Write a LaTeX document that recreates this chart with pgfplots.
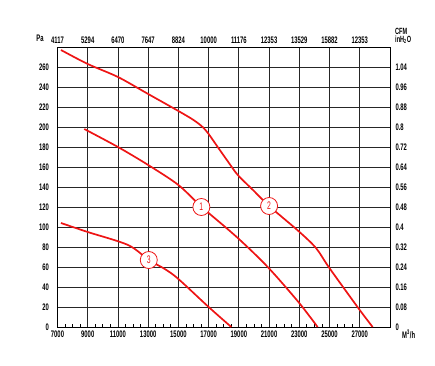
\documentclass[border=0pt]{standalone}
\usepackage{fontspec}
\setmainfont{Liberation Sans}[FakeStretch=0.62]
\usepackage{pgfplots}
\pgfplotsset{compat=1.18}
\definecolor{curvered}{HTML}{EE1414}
\pgfplotsset{
  common/.style={
    at={(57.5pt,38pt)}, anchor=south west,
    scale only axis, width=332.5pt, height=280pt,
    xmin=7000, xmax=29000, ymin=0, ymax=280,
    scaled x ticks=false, scaled y ticks=false,
    /pgf/number format/assume math mode=true,
    tick label style={font=\fontsize{9.5}{10}\selectfont\bfseries},
    axis line style={black, line width=1pt},
  }
}
\begin{document}
\begin{tikzpicture}[x=1pt,y=1pt]
\path[use as bounding box] (0,0) rectangle (435,365);
% main axis: grid, bottom and left labels
\begin{axis}[common,
  xtick={7000,9000,...,27000},
  ytick={0,20,...,260},
  xticklabels={7000,9000,11000,13000,15000,17000,19000,21000,23000,25000,27000},
  yticklabels={0,20,40,60,80,100,120,140,160,180,200,220,240,260},
  xtick pos=bottom, ytick pos=left,
  minor x tick num=3,
  major tick length=0pt, minor tick length=3.5pt,
  tick align=inside,
  grid=major,
  major grid style={black!85, line width=0.9pt},
  minor tick style={black, line width=0.8pt},
  yticklabel style={xshift=-5pt},
]
\addplot[curvered, line width=1.7pt, smooth, tension=0.5] coordinates {
 (8770,198) (11000,180) (13000,162) (15000,142) (16520,120) (17000,114)
 (18930,89) (20910,60) (22940,25) (24210,0)};
\addplot[curvered, line width=1.7pt, smooth, tension=0.5] coordinates {
 (7230,277) (9000,263) (11000,250) (13000,233) (15000,216) (16000,207) (16600,200)
 (17000,193) (17600,180) (18300,165) (18930,152) (20000,136) (21000,121)
 (22940,96) (24100,79) (24990,59) (26900,19) (27850,0)};
\addplot[curvered, line width=1.7pt, smooth, tension=0.5] coordinates {
 (7230,104) (9000,95) (11670,82) (13040,67) (14100,58) (15000,48) (17000,20) (18500,0)};
\node[circle, draw=curvered, fill=white, line width=0.8pt, inner sep=0pt, minimum size=17pt,
  text=curvered, font=\fontsize{11}{11}\selectfont] at (axis cs:16520,120) {1};
\node[circle, draw=curvered, fill=white, line width=0.8pt, inner sep=0pt, minimum size=17pt,
  text=curvered, font=\fontsize{11}{11}\selectfont] at (axis cs:21000,121) {2};
\node[circle, draw=curvered, fill=white, line width=0.8pt, inner sep=0pt, minimum size=17pt,
  text=curvered, font=\fontsize{11}{11}\selectfont] at (axis cs:13040,67) {3};
\end{axis}
% left ruler minor ticks (outside)
\begin{axis}[common,
  axis x line=none, axis y line*=left,
  ytick=\empty, minor ytick={0,4,...,280},
  tick align=outside, minor tick length=5pt,
  minor tick style={black, line width=0.7pt},
]
\end{axis}
% top and right scales
\begin{axis}[common,
  axis x line*=top, axis y line*=right,
  xtick={7000,9000,...,27000},
  xticklabels={4117,5294,6470,7647,8824,10000,11176,12353,13529,15882,12353},
  ytick={0,20,...,260},
  yticklabels={0,0.08,0.16,0.24,0.32,0.4,0.48,0.56,0.64,0.72,0.8,0.88,0.96,1.04},
  major tick length=0pt,
  yticklabel style={anchor=west, xshift=2pt},
]
\end{axis}
\node[font=\fontsize{9.5}{10}\selectfont\bfseries] at (40,326.5) {Pa};
\node[font=\fontsize{9}{9}\selectfont\bfseries, anchor=west, inner sep=0pt] at (395,334) {CFM};
\node[font=\fontsize{9}{9}\selectfont\bfseries, anchor=west, inner sep=0pt] at (395,325) {inH\textsubscript{2}O};
\node[font=\fontsize{9.5}{10}\selectfont\bfseries, anchor=west, inner sep=0pt] at (402,31) {M\textsuperscript{3}/h};
\end{tikzpicture}
\end{document}
